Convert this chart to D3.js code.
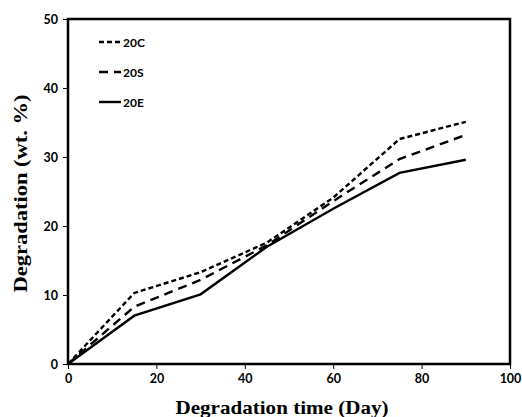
<!DOCTYPE html>
<html>
<head>
<meta charset="utf-8">
<script src="https://cdn.jsdelivr.net/npm/d3@7"></script>
<style>
  body { margin: 0; background: #fff; }
  svg { display: block; }
</style>
</head>
<body>
<svg id="grafico"></svg>
<script>
const largura = 522;
const altura = 417;
const margem = { top: 19, right: 12, bottom: 53, left: 68 };

// dados
const dias = [0, 15, 30, 45, 60, 75, 90];
const serie20C = [0, 10.3, 13.3, 17.6, 24.1, 32.6, 35.1];
const serie20S = [0, 8.3, 12.2, 17.2, 23.6, 29.7, 33.2];
const serie20E = [0, 7.0, 10.1, 17.0, 22.5, 27.7, 29.6];
const nomes = ["20C", "20S", "20E"];
const ticksX = [0, 20, 40, 60, 80, 100];
const ticksY = [0, 10, 20, 30, 40, 50];

const tracos = { "20C": "5,3", "20S": "9,6", "20E": null };
const valores = { "20C": serie20C, "20S": serie20S, "20E": serie20E };

const svg = d3.select("#grafico")
  .attr("width", largura)
  .attr("height", altura);

const x = d3.scaleLinear()
  .domain([0, 100])
  .range([margem.left, largura - margem.right]);

const y = d3.scaleLinear()
  .domain([0, 50])
  .range([altura - margem.bottom, margem.top]);

// Eixos
const eixoX = svg.append("g")
  .attr("transform", `translate(0, ${altura - margem.bottom})`)
  .call(d3.axisBottom(x).tickValues(ticksX).tickSize(5).tickPadding(5));

const eixoY = svg.append("g")
  .attr("transform", `translate(${margem.left}, 0)`)
  .call(d3.axisLeft(y).tickValues(ticksY).tickSize(5).tickPadding(5));

[eixoX, eixoY].forEach(g => {
  g.select(".domain").remove();
  g.selectAll("line").attr("stroke", "#000").attr("stroke-width", 1);
  g.selectAll("text")
    .attr("fill", "#000")
    .style("font-family", "Lato, 'Open Sans', sans-serif")
    .style("font-weight", "bold")
    .style("font-size", "12.5px");
});

// Moldura
svg.append("rect")
  .attr("x", x(0))
  .attr("y", y(50))
  .attr("width", x(100) - x(0))
  .attr("height", y(0) - y(50))
  .attr("fill", "none")
  .attr("stroke", "#000")
  .attr("stroke-width", 2.5);

// Linhas
const linha = d3.line()
  .x((d, i) => x(dias[i]))
  .y(d => y(d));

nomes.forEach(n => {
  svg.append("path")
    .datum(valores[n])
    .attr("fill", "none")
    .attr("stroke", "#000")
    .attr("stroke-width", 2.4)
    .attr("stroke-dasharray", tracos[n])
    .attr("d", linha);
});

// Legenda
nomes.forEach((n, i) => {
  const ly = 42 + i * 30;
  svg.append("line")
    .attr("x1", 99).attr("x2", 121)
    .attr("y1", ly).attr("y2", ly)
    .attr("stroke", "#000")
    .attr("stroke-width", 2.4)
    .attr("stroke-dasharray", tracos[n]);
  svg.append("text")
    .attr("x", 123)
    .attr("y", ly + 4.5)
    .style("font-family", "Lato, 'Open Sans', sans-serif")
    .style("font-weight", "bold")
    .style("font-size", "12px")
    .text(n);
});

// Títulos
svg.append("text")
  .attr("x", 282)
  .attr("y", 414)
  .attr("text-anchor", "middle")
  .attr("textLength", 213)
  .attr("lengthAdjust", "spacingAndGlyphs")
  .style("font-family", "'Liberation Serif', serif")
  .style("font-weight", "bold")
  .style("font-size", "19px")
  .text("Degradation time (Day)");

svg.append("text")
  .attr("transform", `translate(27, ${(y(0) + y(50)) / 2 + 2}) rotate(-90)`)
  .attr("text-anchor", "middle")
  .attr("textLength", 198)
  .attr("lengthAdjust", "spacingAndGlyphs")
  .style("font-family", "'Liberation Serif', serif")
  .style("font-weight", "bold")
  .style("font-size", "19px")
  .text("Degradation (wt. %)");
</script>
</body>
</html>
